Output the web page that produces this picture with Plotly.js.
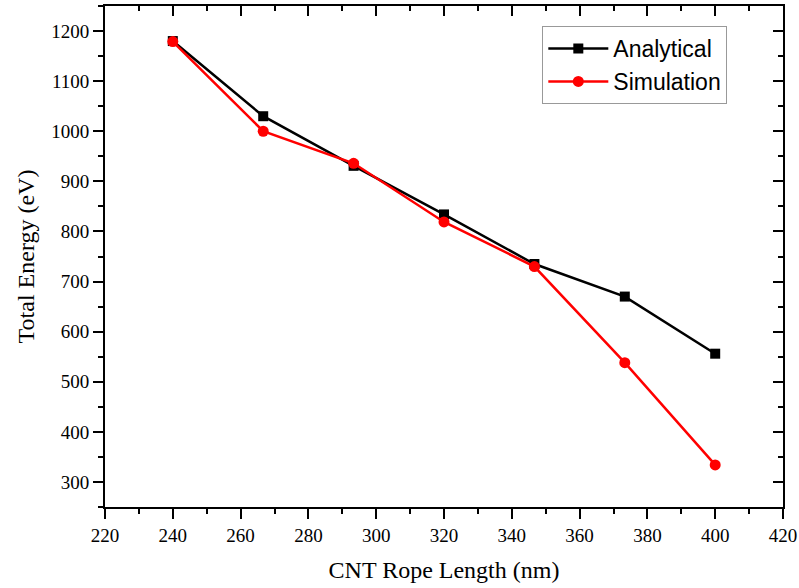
<!DOCTYPE html>
<html>
<head>
<meta charset="utf-8">
<script src="https://cdn.plot.ly/plotly-3.0.1.min.js"></script>
<style>html,body{margin:0;padding:0;background:#fff;}#chart{width:799px;height:588px;}</style>
</head>
<body>
<div id="chart"></div>
<script>
const lengths = [240, 266.67, 293.33, 320, 346.67, 373.33, 400];
const analytical = [1180, 1030, 931, 834, 735, 670, 556];
const simulation = [1179, 1000, 936, 819, 730, 538, 334];
const xTitle = "CNT Rope Length (nm)";
const yTitle = "Total Energy (eV)";

const traces = [
  {x: lengths, y: analytical, name: "Analytical", mode: "lines+markers", type: "scatter",
   line: {color: "#000000", width: 2.5}, marker: {symbol: "square", size: 10, color: "#000000"}},
  {x: lengths, y: simulation, name: "Simulation", mode: "lines+markers", type: "scatter",
   line: {color: "#ff0000", width: 2.5}, marker: {symbol: "circle", size: 11, color: "#ff0000"}},
  {x: [lengths[0]], y: [analytical[0]], xaxis: "x2", yaxis: "y2", showlegend: false, hoverinfo: "skip",
   mode: "markers", marker: {opacity: 0}}
];

const serif = "Liberation Serif, Times New Roman, serif";
const layout = {
  width: 799, height: 588,
  margin: {l: 105, r: 16, t: 6, b: 81},
  paper_bgcolor: "#ffffff", plot_bgcolor: "#ffffff",
  showlegend: true,
  legend: {x: 0.645, y: 0.96, xanchor: "left", yanchor: "top",
    bgcolor: "#ffffff", bordercolor: "#999999", borderwidth: 1,
    font: {family: "Liberation Sans, Arial, sans-serif", size: 23, color: "#000"},
    itemwidth: 60, tracegroupgap: 0},
  xaxis: {range: [220, 420], dtick: 20, tick0: 220, ticks: "outside", ticklen: 10, tickwidth: 2,
    tickcolor: "#000", showline: true, linecolor: "#000", linewidth: 2, showgrid: false, zeroline: false,
    minor: {dtick: 10, ticklen: 5, tickwidth: 2, tickcolor: "#000", ticks: "outside"},
    tickfont: {family: serif, size: 19, color: "#000"},
    title: {text: xTitle, font: {family: serif, size: 24, color: "#000"}, standoff: 16}},
  yaxis: {range: [250, 1250], dtick: 100, tick0: 300, ticks: "outside", ticklen: 10, tickwidth: 2,
    tickcolor: "#000", showline: true, linecolor: "#000", linewidth: 2, showgrid: false, zeroline: false,
    minor: {dtick: 50, ticklen: 5, tickwidth: 2, tickcolor: "#000", ticks: "outside"},
    tickfont: {family: serif, size: 19, color: "#000"},
    title: {text: yTitle, font: {family: serif, size: 24, color: "#000"}, standoff: 10}},
  xaxis2: {overlaying: "x", side: "top", range: [220, 420], dtick: 20, tick0: 220, ticks: "inside",
    ticklen: 10, tickwidth: 2, tickcolor: "#000", showline: true, linecolor: "#000", linewidth: 2,
    showgrid: false, zeroline: false, showticklabels: false,
    minor: {dtick: 10, ticklen: 5, tickwidth: 2, tickcolor: "#000", ticks: "inside"}},
  yaxis2: {overlaying: "y", side: "right", range: [250, 1250], dtick: 100, tick0: 300, ticks: "inside",
    ticklen: 10, tickwidth: 2, tickcolor: "#000", showline: true, linecolor: "#000", linewidth: 2,
    showgrid: false, zeroline: false, showticklabels: false,
    minor: {dtick: 50, ticklen: 5, tickwidth: 2, tickcolor: "#000", ticks: "inside"}}
};

Plotly.newPlot("chart", traces, layout, {displayModeBar: false, staticPlot: true});
</script>
</body>
</html>
